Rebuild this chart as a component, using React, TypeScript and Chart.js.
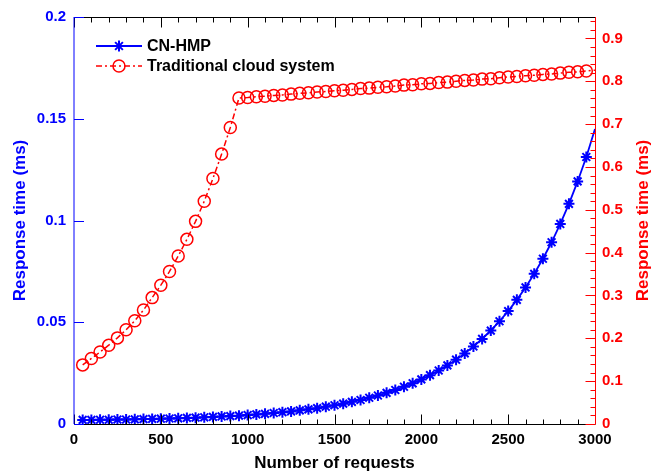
import React, { useEffect, useRef } from 'react';
import { Chart, registerables } from 'chart.js';

Chart.register(...registerables);

// ---- data ----
const requests = [
  50, 100, 150, 200, 250, 300, 350, 400, 450, 500,
  550, 600, 650, 700, 750, 800, 850, 900, 950, 1000,
  1050, 1100, 1150, 1200, 1250, 1300, 1350, 1400, 1450, 1500,
  1550, 1600, 1650, 1700, 1750, 1800, 1850, 1900, 1950, 2000,
  2050, 2100, 2150, 2200, 2250, 2300, 2350, 2400, 2450, 2500,
  2550, 2600, 2650, 2700, 2750, 2800, 2850, 2900, 2950, 3000,
];

const cnHmp = [
  0.0020, 0.0020, 0.0021, 0.0021, 0.0022, 0.0022, 0.0023, 0.0024, 0.0025, 0.0026,
  0.0027, 0.0028, 0.0030, 0.0031, 0.0033, 0.0035, 0.0037, 0.0039, 0.0041, 0.0044,
  0.0047, 0.0050, 0.0054, 0.0058, 0.0062, 0.0067, 0.0072, 0.0078, 0.0085, 0.0092,
  0.0100, 0.0109, 0.0118, 0.0129, 0.0140, 0.0153, 0.0167, 0.0183, 0.0200, 0.0219,
  0.0240, 0.0263, 0.0288, 0.0316, 0.0347, 0.0381, 0.0418, 0.0459, 0.0505, 0.0555,
  0.0610, 0.0671, 0.0738, 0.0812, 0.0893, 0.0983, 0.1082, 0.1192, 0.1312, 0.1450,
];

const traditional = [
  0.138, 0.153, 0.168, 0.184, 0.201, 0.220, 0.241, 0.266, 0.295, 0.324,
  0.356, 0.392, 0.431, 0.473, 0.520, 0.573, 0.630, 0.692, 0.761, 0.762,
  0.764, 0.765, 0.767, 0.768, 0.770, 0.772, 0.773, 0.775, 0.776, 0.778,
  0.779, 0.781, 0.783, 0.784, 0.786, 0.787, 0.789, 0.791, 0.792, 0.794,
  0.795, 0.797, 0.798, 0.800, 0.802, 0.803, 0.805, 0.806, 0.808, 0.810,
  0.811, 0.813, 0.814, 0.816, 0.817, 0.819, 0.821, 0.822, 0.824, 0.826,
];

const xTicks = [0, 500, 1000, 1500, 2000, 2500, 3000];
const xMinorTicks = [
  100, 200, 300, 400, 600, 700, 800, 900, 1100, 1200, 1300, 1400,
  1600, 1700, 1800, 1900, 2100, 2200, 2300, 2400, 2600, 2700, 2800, 2900,
];
const leftTicks = [0, 0.05, 0.1, 0.15, 0.2];
const rightTicks = [0, 0.1, 0.2, 0.3, 0.4, 0.5, 0.6, 0.7, 0.8, 0.9];
const rightMinorTicks = [
  0.02, 0.04, 0.06, 0.08, 0.12, 0.14, 0.16, 0.18, 0.22, 0.24, 0.26, 0.28,
  0.32, 0.34, 0.36, 0.38, 0.42, 0.44, 0.46, 0.48, 0.52, 0.54, 0.56, 0.58,
  0.62, 0.64, 0.66, 0.68, 0.72, 0.74, 0.76, 0.78, 0.82, 0.84, 0.86, 0.88,
  0.92, 0.94,
];

const seriesNames = ['CN-HMP', 'Traditional cloud system'];
const xTitle = 'Number of requests';
const yTitle = 'Response time (ms)';

const FONT = '"Liberation Sans", Arial, Helvetica, sans-serif';
const BLUE = '#0000ff';
const RED = '#ff0000';
const STAR_R = 5.5;
const CIRCLE_R = 6;

const fmt = (v: number) => String(parseFloat(v.toFixed(2)));

function seg(ctx: CanvasRenderingContext2D, x1: number, y1: number, x2: number, y2: number) {
  ctx.beginPath();
  ctx.moveTo(x1, y1);
  ctx.lineTo(x2, y2);
  ctx.stroke();
}

const axesPlugin = {
  id: 'matlabAxes',
  afterDraw(chart: any) {
    const ctx: CanvasRenderingContext2D = chart.ctx;
    const { left, right, top, bottom } = chart.chartArea;
    const xs = chart.scales.x;
    const yl = chart.scales.y;
    const yr = chart.scales.y1;
    const B = Math.round(bottom) + 0.5;
    const T = Math.round(top) + 0.5;
    const R = Math.round(right) + 0.5;
    ctx.save();
    ctx.setLineDash([]);
    ctx.lineWidth = 1;

    ctx.strokeStyle = '#000000';
    seg(ctx, left, B, right, B);
    seg(ctx, left, T, right, T);
    const xAll = xTicks.map((v) => [v, 10]).concat(xMinorTicks.map((v) => [v, 5]));
    xAll.forEach(([v, len]) => {
      const px = Math.round(xs.getPixelForValue(v)) + 0.5;
      seg(ctx, px, B, px, B - len);
      seg(ctx, px, T, px, T + len);
    });

    ctx.strokeStyle = BLUE;
    seg(ctx, left, top, left, bottom);
    leftTicks.forEach((v) => {
      const py = Math.round(yl.getPixelForValue(v)) + 0.5;
      seg(ctx, left, py, left + 10, py);
    });

    ctx.strokeStyle = RED;
    seg(ctx, R, top, R, bottom);
    const rAll = rightTicks.map((v) => [v, 10]).concat(rightMinorTicks.map((v) => [v, 5]));
    rAll.forEach(([v, len]) => {
      const py = Math.round(yr.getPixelForValue(v)) + 0.5;
      seg(ctx, R, py, R - len, py);
    });

    ctx.translate(chart.width - 19, (top + bottom) / 2);
    ctx.rotate(-Math.PI / 2);
    ctx.fillStyle = RED;
    ctx.font = `bold 17px ${FONT}`;
    ctx.textAlign = 'center';
    ctx.textBaseline = 'middle';
    ctx.fillText(yTitle, 0, 0);
    ctx.restore();
  },
};

const legendPlugin = {
  id: 'matlabLegend',
  afterDatasetsDraw(chart: any) {
    const { ctx, chartArea } = chart;
    const x0 = chartArea.left + 22;
    const lineLen = 46;
    ctx.save();
    chart.data.datasets.forEach((ds: any, i: number) => {
      const yy = chartArea.top + 29 + i * 20;
      ctx.strokeStyle = ds.borderColor;
      ctx.lineWidth = ds.borderWidth;
      ctx.setLineDash(ds.borderDash || []);
      ctx.beginPath();
      ctx.moveTo(x0, yy);
      ctx.lineTo(x0 + lineLen, yy);
      ctx.stroke();
      ctx.setLineDash([]);
      const cx = x0 + lineLen / 2;
      ctx.lineWidth = ds.pointBorderWidth;
      ctx.beginPath();
      if (ds.pointStyle === 'star') {
        for (let k = 0; k < 4; k++) {
          const a = (k * Math.PI) / 4;
          ctx.moveTo(cx - STAR_R * Math.cos(a), yy - STAR_R * Math.sin(a));
          ctx.lineTo(cx + STAR_R * Math.cos(a), yy + STAR_R * Math.sin(a));
        }
      } else {
        ctx.arc(cx, yy, CIRCLE_R, 0, Math.PI * 2);
      }
      ctx.stroke();
      ctx.fillStyle = '#000';
      ctx.font = `bold 16px ${FONT}`;
      ctx.textAlign = 'left';
      ctx.textBaseline = 'middle';
      ctx.fillText(ds.label, x0 + lineLen + 5, yy + 1);
    });
    ctx.restore();
  },
};

export default function App() {
  const ref = useRef<HTMLCanvasElement | null>(null);

  useEffect(() => {
    if (!ref.current) return;
    const radiusExceptLast = (r: number) => (c: any) =>
      c.dataIndex === c.dataset.data.length - 1 ? 0 : r;
    const chart = new Chart(ref.current, {
      type: 'line',
      data: {
        datasets: [
          {
            label: seriesNames[0],
            data: requests.map((x, i) => ({ x, y: cnHmp[i] })),
            yAxisID: 'y',
            borderColor: BLUE,
            backgroundColor: BLUE,
            borderWidth: 1.8,
            pointStyle: 'star',
            pointRadius: radiusExceptLast(STAR_R),
            pointBorderWidth: 2,
            pointBorderColor: BLUE,
            pointBackgroundColor: BLUE,
            tension: 0,
          } as any,
          {
            label: seriesNames[1],
            data: requests.map((x, i) => ({ x, y: traditional[i] })),
            yAxisID: 'y1',
            borderColor: RED,
            backgroundColor: 'rgba(0,0,0,0)',
            borderWidth: 1.5,
            borderDash: [6, 3, 2, 3],
            pointStyle: 'circle',
            pointRadius: radiusExceptLast(CIRCLE_R),
            pointBorderWidth: 1.5,
            pointBorderColor: RED,
            pointBackgroundColor: 'rgba(0,0,0,0)',
            tension: 0,
          } as any,
        ],
      },
      options: {
        animation: false,
        responsive: false,
        events: [],
        layout: { padding: { top: 13, left: 0, right: 0, bottom: 0 } },
        plugins: { legend: { display: false }, tooltip: { enabled: false }, title: { display: false } },
        scales: {
          x: {
            type: 'linear',
            min: 0,
            max: 3000,
            grid: { display: false, drawTicks: false },
            border: { display: false },
            afterBuildTicks: (s: any) => {
              s.ticks = xTicks.map((v) => ({ value: v }));
            },
            afterFit: (s: any) => {
              s.height = 52;
            },
            ticks: {
              color: '#000',
              padding: 7,
              maxRotation: 0,
              font: { family: FONT, size: 15, weight: 'bold' },
              callback: (v: any) => String(v),
            },
            title: {
              display: true,
              text: xTitle,
              color: '#000',
              padding: { top: 0, bottom: 2 },
              font: { family: FONT, size: 17, weight: 'bold' },
            },
          },
          y: {
            type: 'linear',
            position: 'left',
            min: 0,
            max: 0.2,
            grid: { display: false, drawTicks: false },
            border: { display: false },
            afterBuildTicks: (s: any) => {
              s.ticks = leftTicks.map((v) => ({ value: v }));
            },
            afterFit: (s: any) => {
              s.width = 74;
            },
            ticks: {
              color: BLUE,
              padding: 8,
              font: { family: FONT, size: 15, weight: 'bold' },
              callback: (v: any) => fmt(Number(v)),
            },
            title: {
              display: true,
              text: yTitle,
              color: BLUE,
              padding: { top: 10, bottom: 0 },
              font: { family: FONT, size: 17, weight: 'bold' },
            },
          },
          y1: {
            type: 'linear',
            position: 'right',
            min: 0,
            max: 0.95,
            grid: { display: false, drawTicks: false },
            border: { display: false },
            afterBuildTicks: (s: any) => {
              s.ticks = rightTicks.map((v) => ({ value: v }));
            },
            afterFit: (s: any) => {
              s.width = 67;
            },
            ticks: {
              color: RED,
              padding: 7,
              font: { family: FONT, size: 15, weight: 'bold' },
              callback: (v: any) => fmt(Number(v)),
            },
            title: { display: false },
          },
        },
      } as any,
      plugins: [axesPlugin, legendPlugin],
    });
    return () => chart.destroy();
  }, []);

  return (
    <div style={{ position: 'absolute', left: 0, top: 0, width: 662, height: 476, background: '#fff' }}>
      <canvas ref={ref} width={662} height={476} style={{ display: 'block' }} />
    </div>
  );
}
